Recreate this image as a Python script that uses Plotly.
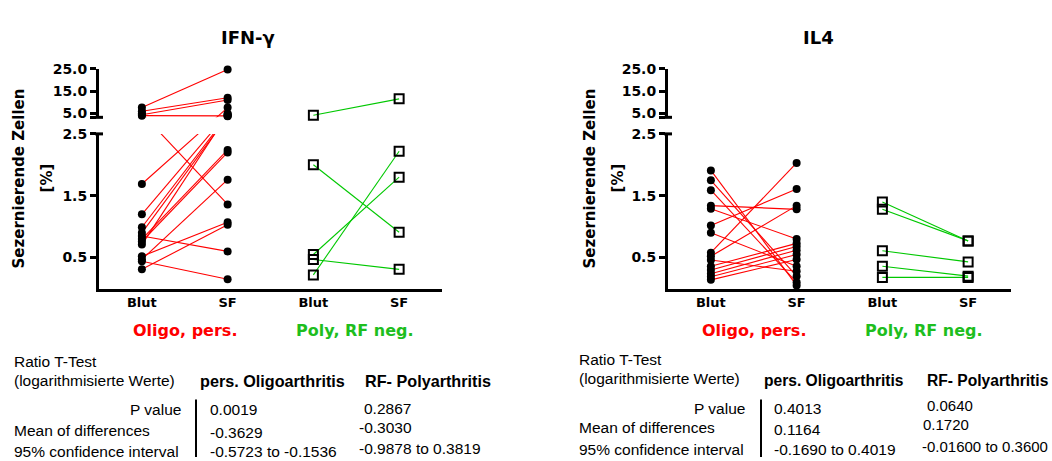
import plotly.graph_objects as go

W, H = 1052, 461

# ---------------- data ----------------
categories = ["Blut", "SF", "Blut", "SF"]
group_labels = ["Oligo, pers.", "Poly, RF neg."]
panel_titles = ["IFN-γ", "IL4"]

ifn_oligo_blut = [7.6, 6.0, 4.4, 4.0, 5.0, 1.69, 1.2, 0.99, 0.9, 0.85, 0.8, 0.76, 0.71, 0.52, 0.47, 0.44, 0.31]
ifn_oligo_sf   = [24.6, 12.0, 11.0, 3.9, 1.36, 7.6, 5.0, 4.2, 3.7, 0.6, 2.24, 2.2, 4.6, 1.07, 1.76, 0.15, 1.03]
ifn_poly_blut  = [4.2, 2.0, 0.22, 0.55, 0.47]
ifn_poly_sf    = [11.5, 0.91, 2.22, 1.8, 0.31]

il4_oligo_blut = [1.91, 1.75, 1.59, 1.34, 1.29, 1.02, 0.90, 0.58, 0.52, 0.46, 0.36, 0.30, 0.24, 0.19, 0.14]
il4_oligo_sf   = [0.05, 0.20, 0.10, 1.28, 0.80, 1.61, 0.36, 2.03, 1.34, 0.28, 0.73, 0.68, 0.62, 0.55, 0.47]
il4_poly_blut  = [1.40, 1.28, 0.61, 0.36, 0.18]
il4_poly_sf    = [0.77, 0.77, 0.43, 0.20, 0.18]

lower_ticks = [0.5, 1.5, 2.5]
upper_ticks = [5.0, 15.0, 25.0]

stats_header = ["pers. Oligoarthritis", "RF- Polyarthritis"]
stats_rows = ["P value", "Mean of differences", "95% confidence interval"]
ifn_stats_oligo = ["0.0019", "-0.3629", "-0.5723 to -0.1536"]
ifn_stats_poly = ["0.2867", "-0.3030", "-0.9878 to 0.3819"]
il4_stats_oligo = ["0.4013", "0.1164", "-0.1690 to 0.4019"]
il4_stats_poly = ["0.0640", "0.1720", "-0.01600 to 0.3600"]

# ---------------- broken-axis scale ----------------
PX_PER_UNIT = 63.5          # lower segment pixels per unit
Y0_PX = 288                 # pixel row of value 0
GAP_PX = 17                 # gap between segments
UP_PX_PER_UNIT = 2.3        # upper segment pixels per unit
LOW_MAX = 2.5
UP_MIN = 3.26
UP_MAX = 25.0
T_UP0 = LOW_MAX + GAP_PX / PX_PER_UNIT
K = UP_PX_PER_UNIT / PX_PER_UNIT


def tr(v):
    if v is None:
        return None
    if v <= LOW_MAX:
        return v
    return T_UP0 + (v - UP_MIN) * K


def frac_y(px):
    return 1 - px / H


def frac_x(px):
    return px / W


low_dom = [frac_y(Y0_PX), frac_y(Y0_PX - LOW_MAX * PX_PER_UNIT)]
up_dom = [frac_y(Y0_PX - T_UP0 * PX_PER_UNIT), frac_y(Y0_PX - tr(UP_MAX) * PX_PER_UNIT)]

RED = "#FF0000"
GREEN = "#00C800"
GREEN_TXT = "#1EBE1E"
LBL_FONT = "DejaVu Sans"
TBL_FONT = "Arial, Liberation Sans, sans-serif"

fig = go.Figure()

panels = [
    dict(x="x", ylow="y", yup="y2", data=[(ifn_oligo_blut, ifn_oligo_sf, 0, RED, "circle"),
                                         (ifn_poly_blut, ifn_poly_sf, 2, GREEN, "square-open")]),
    dict(x="x2", ylow="y3", yup="y4", data=[(il4_oligo_blut, il4_oligo_sf, 0, RED, "circle"),
                                           (il4_poly_blut, il4_poly_sf, 2, GREEN, "square-open")]),
]

for p in panels:
    for yax, is_up in [(p["ylow"], False), (p["yup"], True)]:
        # lines
        for blut, sf, x0, col, sym in p["data"]:
            xs, ys = [], []
            for b, s in zip(blut, sf):
                xs += [x0, x0 + 1, None]
                ys += [tr(b), tr(s), None]
            fig.add_trace(go.Scatter(x=xs, y=ys, mode="lines", xaxis=p["x"], yaxis=yax,
                                     line=dict(color=col, width=1.1), hoverinfo="skip"))
        # markers
        for blut, sf, x0, col, sym in p["data"]:
            xs, ys = [], []
            for b, s in zip(blut, sf):
                for xv, v in [(x0, b), (x0 + 1, s)]:
                    if (v > LOW_MAX) == is_up:
                        xs.append(xv)
                        ys.append(tr(v))
            if sym == "circle":
                mk = dict(symbol="circle", size=8, color="black")
            else:
                mk = dict(symbol="square-open", size=9, color="black", line=dict(width=2, color="black"))
            fig.add_trace(go.Scatter(x=xs, y=ys, mode="markers", xaxis=p["x"], yaxis=yax,
                                     marker=mk, cliponaxis=False, hoverinfo="skip"))

tickfont = dict(family=LBL_FONT, size=14, color="black", weight="bold")

x_doms = [[frac_x(99), frac_x(442)], [frac_x(668), frac_x(1011)]]
common_x = dict(range=[-0.5, 3.5], tickvals=[0, 1, 2, 3], ticktext=categories,
                showline=True, linewidth=3, linecolor="black", ticks="", showgrid=False,
                zeroline=False, tickfont=dict(family=LBL_FONT, size=13, color="black", weight="bold"),
                fixedrange=True)
common_low = dict(range=[0, LOW_MAX + 1e-6], domain=low_dom, tickvals=lower_ticks,
                  ticktext=[f"{v:.1f}" for v in lower_ticks], showline=True, linewidth=3,
                  linecolor="black", ticks="outside", ticklen=6, tickwidth=3, tickcolor="black",
                  showgrid=False, zeroline=False, tickfont=tickfont)
common_up = dict(range=[T_UP0, tr(UP_MAX) + 1e-6], domain=up_dom,
                 tickvals=[tr(v) for v in upper_ticks] + [T_UP0],
                 ticktext=[f"{v:.1f}" for v in upper_ticks] + [""], showline=True, linewidth=3,
                 linecolor="black", ticks="outside", ticklen=6, tickwidth=3, tickcolor="black",
                 showgrid=False, zeroline=False, tickfont=tickfont)

fig.update_layout(
    width=W, height=H, margin=dict(l=0, r=0, t=0, b=0),
    paper_bgcolor="white", plot_bgcolor="white", showlegend=False,
    xaxis=dict(common_x, domain=x_doms[0], anchor="y"),
    xaxis2=dict(common_x, domain=x_doms[1], anchor="y3"),
    yaxis=dict(common_low, anchor="x"),
    yaxis2=dict(common_up, anchor="x"),
    yaxis3=dict(common_low, anchor="x2"),
    yaxis4=dict(common_up, anchor="x2"),
)

ann = []


def text(x, y, s, size=15.5, bold=False, color="black", xanchor="left", family=TBL_FONT, angle=0):
    ann.append(dict(x=frac_x(x), y=frac_y(y), xref="paper", yref="paper", text=s, showarrow=False,
                    xanchor=xanchor, yanchor="middle", textangle=angle,
                    font=dict(family=family, size=size, color=color, weight="bold" if bold else "normal")))


# titles
text(248, 30, panel_titles[0], size=18, bold=True, xanchor="center", family=LBL_FONT)
text(818, 30, panel_titles[1], size=18, bold=True, xanchor="center", family=LBL_FONT)

# y-axis titles
for x1, x2 in [(19, 47), (590, 618)]:
    text(x1, 175, "Sezernierende Zellen", size=15, bold=True, xanchor="center", family=LBL_FONT, angle=-90)
    text(x2, 175, "[%]", size=15, bold=True, xanchor="center", family=LBL_FONT, angle=-90)

# group labels
for cx, lab, col in [(185, group_labels[0], RED), (355, group_labels[1], GREEN_TXT),
                     (754, group_labels[0], RED), (924, group_labels[1], GREEN_TXT)]:
    text(cx, 331, lab, size=16, bold=True, color=col, xanchor="center", family=LBL_FONT)

# stats tables
tables = [
    dict(x0=12, hx1=198, hx2=363, pv_r=183, c1=208, c2=[362, 357, 357], vline=196,
         ys=[363, 382, 383], rows=[412, 434, 455], c2y=[411, 431, 452],
         s1=ifn_stats_oligo, s2=ifn_stats_poly, hsize=16.2, c2size=15.5),
    dict(x0=577, hx1=762, hx2=925, pv_r=747, c1=772, c2=[925, 921, 920], vline=761,
         ys=[361, 380, 382], rows=[411, 431, 453], c2y=[408, 428, 450],
         s1=il4_stats_oligo, s2=il4_stats_poly, hsize=15.6, c2size=15),
]
shapes = []
for t in tables:
    text(t["x0"], t["ys"][0], "Ratio T-Test")
    text(t["x0"], t["ys"][1], "(logarithmisierte Werte)")
    text(t["hx1"], t["ys"][2], stats_header[0], size=t["hsize"], bold=True)
    text(t["hx2"], t["ys"][2], stats_header[1], size=t["hsize"], bold=True)
    text(t["pv_r"], t["rows"][0], stats_rows[0], xanchor="right")
    text(t["x0"], t["rows"][1], stats_rows[1])
    text(t["x0"], t["rows"][2], stats_rows[2])
    for i in range(3):
        text(t["c1"], t["rows"][i] + (2 if i == 1 else 0), t["s1"][i])
        text(t["c2"][i], t["c2y"][i], t["s2"][i], size=t["c2size"])
    shapes.append(dict(type="line", xref="paper", yref="paper", x0=frac_x(t["vline"]), x1=frac_x(t["vline"]),
                       y0=frac_y(402), y1=0, line=dict(color="black", width=2)))

# axis break caps
for xa, ylo, yup in [(99, "y", "y2"), (668, "y3", "y4")]:
    shapes.append(dict(type="line", xref="paper", yref=f"{yup} domain", x0=frac_x(xa - 4), x1=frac_x(xa + 4),
                       y0=0, y1=0, line=dict(color="black", width=3)))
    shapes.append(dict(type="line", xref="paper", yref=f"{ylo} domain", x0=frac_x(xa - 4), x1=frac_x(xa + 4),
                       y0=1, y1=1, line=dict(color="black", width=3)))

fig.update_layout(annotations=ann, shapes=shapes)
fig.write_html("out.html")
